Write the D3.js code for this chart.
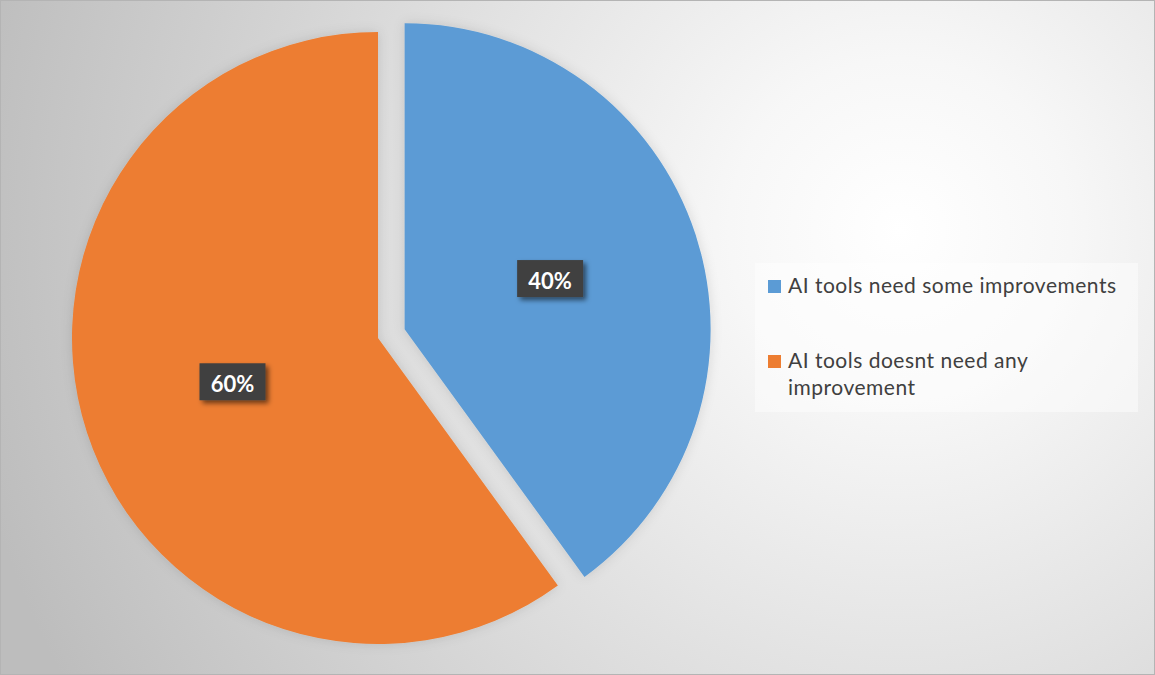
<!DOCTYPE html>
<html>
<head>
<meta charset="utf-8">
<script src="https://cdn.jsdelivr.net/npm/d3@7"></script>
<style>
  html, body { margin: 0; padding: 0; background: #ffffff; }
  svg { display: block; }
</style>
</head>
<body>
<svg id="chart" width="1155" height="675"></svg>
<script>
// Survey answers
const categories = ["AI tools need some improvements", "AI tools doesnt need any improvement"];
const values = [40, 60];
const colors = ["#5b9bd5", "#ed7d31"];
const legendLines = [["AI tools need some improvements"], ["AI tools doesnt need any", "improvement"]];

const W = 1155, H = 675;
const svg = d3.select("#chart");
const defs = svg.append("defs");

// Soft radial background
const bg = defs.append("radialGradient")
  .attr("id", "bgGrad")
  .attr("gradientUnits", "userSpaceOnUse")
  .attr("cx", 900).attr("cy", 230).attr("r", 950);
bg.append("stop").attr("offset", "0%").attr("stop-color", "#ffffff");
bg.append("stop").attr("offset", "18%").attr("stop-color", "#f7f7f7");
bg.append("stop").attr("offset", "100%").attr("stop-color", "#bdbdbd");

const sliceShadow = defs.append("filter").attr("id", "sliceShadow")
  .attr("x", "-10%").attr("y", "-10%").attr("width", "120%").attr("height", "120%");
sliceShadow.append("feDropShadow").attr("dx", 0).attr("dy", 0)
  .attr("stdDeviation", 6).attr("flood-color", "#000").attr("flood-opacity", 0.12);

const boxShadow = defs.append("filter").attr("id", "boxShadow")
  .attr("x", "-30%").attr("y", "-30%").attr("width", "160%").attr("height", "160%");
boxShadow.append("feDropShadow").attr("dx", 3).attr("dy", 3)
  .attr("stdDeviation", 2.5).attr("flood-color", "#000").attr("flood-opacity", 0.55);

svg.append("rect")
  .attr("x", 0.5).attr("y", 0.5).attr("width", W - 1).attr("height", H - 1)
  .attr("fill", "url(#bgGrad)")
  .attr("stroke", "#b4b4b4").attr("stroke-width", 1);

// Pie
const cx = 378, cy = 338, radius = 306;
const explode = [28, 0];

const pie = d3.pie().sort(null).value(d => d);
const arcs = pie(values);
const arc = d3.arc().innerRadius(0).outerRadius(radius);

const pieG = svg.append("g").attr("transform", `translate(${cx},${cy})`);

const slices = pieG.selectAll("g.slice")
  .data(arcs)
  .join("g")
  .attr("class", "slice")
  .attr("transform", (d, i) => {
    const mid = (d.startAngle + d.endAngle) / 2;
    return `translate(${Math.sin(mid) * explode[i]},${-Math.cos(mid) * explode[i]})`;
  });

slices.append("path")
  .attr("d", arc)
  .attr("fill", (d, i) => colors[i])
  .attr("filter", "url(#sliceShadow)");

// Data labels in dark boxes
slices.each(function(d, i) {
  const g = d3.select(this);
  const [lx, ly] = arc.centroid(d);
  const text = `${values[i]}%`;
  const bw = 66, bh = 37;
  g.append("rect")
    .attr("x", lx - bw / 2).attr("y", ly - 3.5 - bh / 2)
    .attr("width", bw).attr("height", bh)
    .attr("fill", "#404040")
    .attr("filter", "url(#boxShadow)");
  g.append("text")
    .attr("x", lx).attr("y", ly + 1)
    .attr("text-anchor", "middle")
    .attr("dominant-baseline", "middle")
    .attr("font-family", "Lato, 'Open Sans', sans-serif")
    .attr("font-weight", "bold")
    .attr("font-size", 22)
    .attr("fill", "#ffffff")
    .text(text);
});

// Legend
const legend = svg.append("g");
legend.append("rect")
  .attr("x", 755).attr("y", 263).attr("width", 383).attr("height", 149)
  .attr("fill", "#ffffff").attr("fill-opacity", 0.45);

const legendY = [293, 368];
const items = legend.selectAll("g.item")
  .data(categories)
  .join("g")
  .attr("class", "item");

items.append("rect")
  .attr("x", 768)
  .attr("y", (d, i) => legendY[i] - 13)
  .attr("width", 13).attr("height", 13)
  .attr("fill", (d, i) => colors[i]);

items.append("text")
  .attr("x", 788)
  .attr("y", (d, i) => legendY[i])
  .attr("font-family", "Lato, 'Open Sans', sans-serif")
  .attr("font-size", 21)
  .attr("letter-spacing", 0.5)
  .attr("fill", "#404040")
  .selectAll("tspan")
  .data((d, i) => legendLines[i])
  .join("tspan")
  .attr("x", 788)
  .attr("dy", (d, j) => j === 0 ? 0 : 27)
  .text(d => d);
</script>
</body>
</html>
